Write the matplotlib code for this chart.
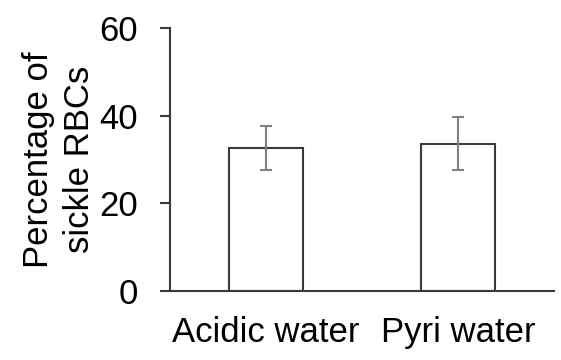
import matplotlib
matplotlib.use("Agg")
import matplotlib.pyplot as plt

categories = ["Acidic water", "Pyri water"]
means = [32.6, 33.6]
errors = [5.0, 6.1]
yticks = [0, 20, 40, 60]

plt.rcParams["font.family"] = ["Liberation Sans", "DejaVu Sans"]

fig = plt.figure(figsize=(5.61, 3.6), dpi=100)
ax = fig.add_axes([0.303, 0.193, 0.6845, 0.729])

x = list(range(len(categories)))
ax.bar(x, means, width=0.39, color="white", edgecolor="#3a3a3a", linewidth=1.5,
       zorder=2)
ax.errorbar(x, means, yerr=errors, fmt="none", ecolor="#808080", elinewidth=1.5,
            capsize=4, capthick=1.5, zorder=3)

ax.set_xlim(-0.5, 1.5)
ax.set_ylim(0, 60)
ax.set_yticks(yticks)
ax.set_xticks(x)
ax.set_xticklabels(categories)

for side in ("top", "right"):
    ax.spines[side].set_visible(False)
for side in ("left", "bottom"):
    ax.spines[side].set_color("#3a3a3a")
    ax.spines[side].set_linewidth(1.5)

ax.tick_params(axis="y", direction="out", length=7, width=1.5, color="#3a3a3a",
               labelsize=25, pad=16)
ax.tick_params(axis="x", length=0, labelsize=25, pad=18)

ax.set_ylabel("Percentage of\nsickle RBCs", fontsize=25, linespacing=1.3)
ax.yaxis.set_label_coords(-0.193, 0.5)

fig.savefig("out.png", dpi=100)
